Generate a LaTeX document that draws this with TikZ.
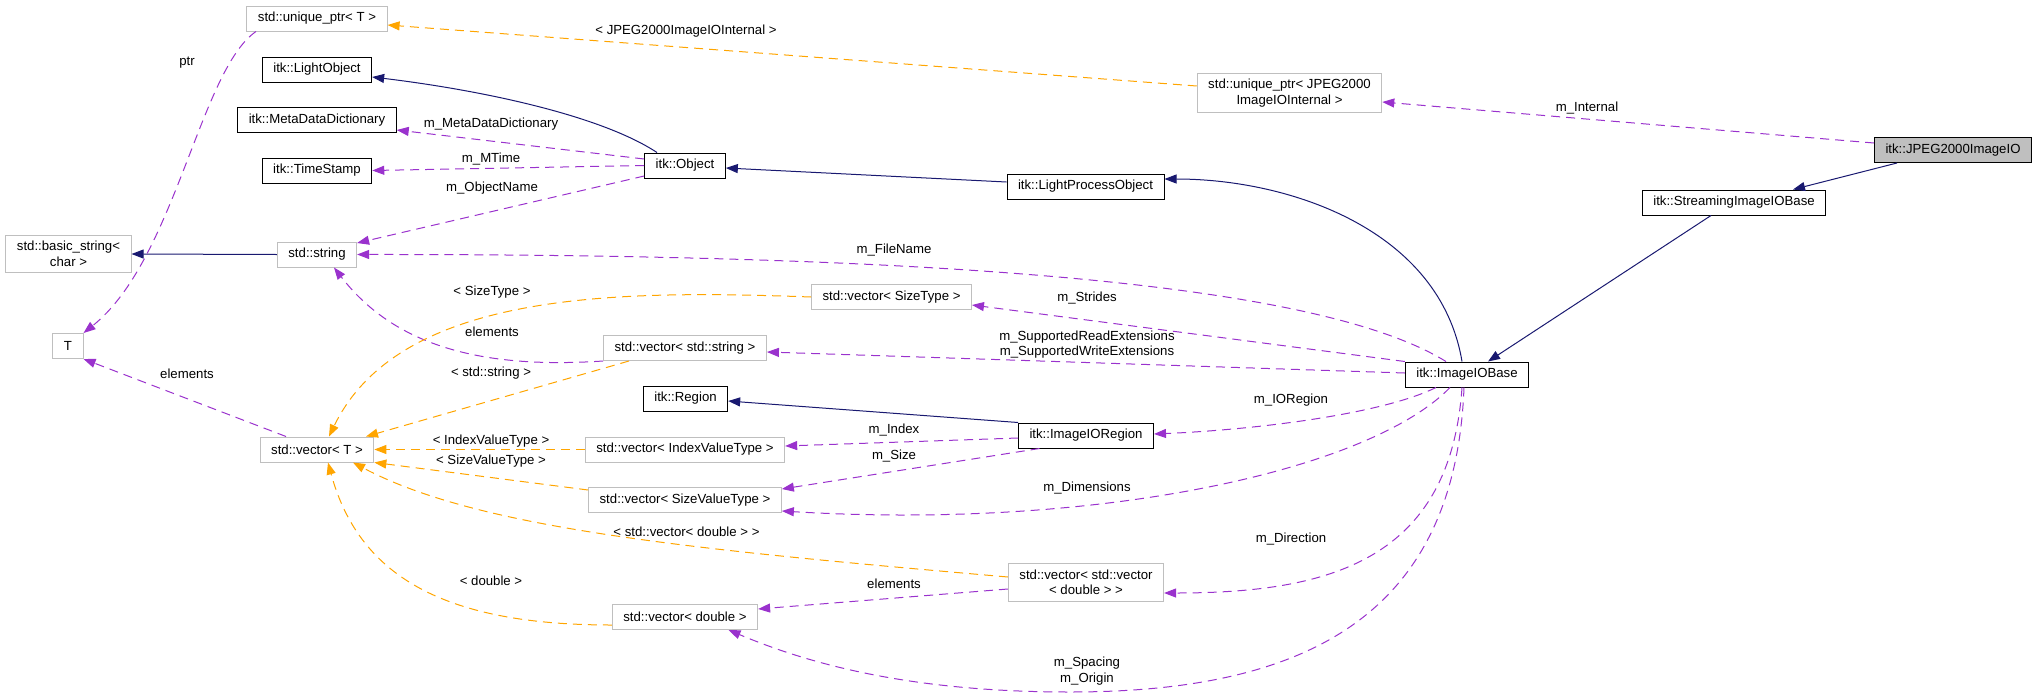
\documentclass[tikz,border=0pt]{standalone}
\usepackage{fontspec}
\setmainfont{Liberation Sans}
\usetikzlibrary{arrows.meta}

\definecolor{navyedge}{HTML}{191970}
\definecolor{orchidedge}{HTML}{9A32CD}
\definecolor{orangeedge}{HTML}{FFA500}
\definecolor{boxgray}{HTML}{BFBFBF}
\newcommand{\dxfont}{\fontsize{13.2pt}{15.5pt}\selectfont}

\begin{document}
\begin{tikzpicture}[
    x=1pt, y=-1pt,
    cls/.style={draw=black, line width=1pt, fill=white, font=\dxfont, align=center,
      inner xsep=11pt, inner ysep=6pt, minimum height=25pt},
    ext/.style={cls, draw=boxgray},
    cur/.style={cls, fill=boxgray},
    lbl/.style={font=\dxfont, inner sep=0pt, align=center},
    tip/.style={-{Triangle[length=12pt, width=9pt]}},
    inherit/.style={tip, navyedge, line width=1pt},
    member/.style={tip, orchidedge, line width=1pt, dash pattern=on 9pt off 6pt},
    tmplarg/.style={tip, orangeedge, line width=1pt, dash pattern=on 9pt off 6pt},
  ]
  \useasboundingbox (0,0) rectangle (2037,699);

  % Classes
  \node[cur] (jpeg) at (1953,150) {itk::JPEG2000ImageIO};
  \node[cls] (streaming) at (1734,202.5) {itk::StreamingImageIOBase};
  \node[cls] (iobase) at (1467,374.5) {itk::ImageIOBase};
  \node[cls] (lpo) at (1085.5,186.5) {itk::LightProcessObject};
  \node[cls] (object) at (685,165.5) {itk::Object};
  \node[cls] (lightobj) at (317,69.5) {itk::LightObject};
  \node[cls] (mdd) at (317,120) {itk::MetaDataDictionary};
  \node[cls] (tstamp) at (317,170.5) {itk::TimeStamp};
  \node[cls] (region) at (685.5,398.5) {itk::Region};
  \node[cls] (ioregion) at (1086,435.5) {itk::ImageIORegion};

  % External types
  \node[ext] (uptrT) at (317,18.5) {std::unique\_ptr< T >};
  \node[ext] (uptrJ) at (1289.5,93) {std::unique\_ptr< JPEG2000\\ImageIOInternal >};
  \node[ext] (str) at (317,254.5) {std::string};
  \node[ext] (bstr) at (68.5,254) {std::basic\_string<\\char >};
  \node[ext] (tnode) at (68,346) {T};
  \node[ext] (vecT) at (317,449.5) {std::vector< T >};
  \node[ext] (vecSizeType) at (891.5,297) {std::vector< SizeType >};
  \node[ext] (vecStr) at (685,348) {std::vector< std::string >};
  \node[ext] (vecIdx) at (685,449.5) {std::vector< IndexValueType >};
  \node[ext] (vecSVT) at (685,500) {std::vector< SizeValueType >};
  \node[ext] (vecVecD) at (1086,582.5) {std::vector< std::vector\\< double > >};
  \node[ext] (vecD) at (685,617) {std::vector< double >};

  % Inheritance
  \draw[inherit] ([xshift=-56pt]jpeg.south) -- ([xshift=59pt]streaming.north);
  \draw[inherit] ([xshift=-23pt]streaming.south) -- ([xshift=21pt]iobase.north);
  \draw[inherit] ([xshift=-5pt]iobase.north) .. controls (1440,230) and (1290,179) .. ([yshift=7.5pt]lpo.east);
  \draw[inherit] ([yshift=4.5pt]lpo.west) -- ([yshift=-2.5pt]object.east);
  \draw[inherit] ([xshift=-28pt]object.north) .. controls (600,115) and (480,90) .. ([yshift=-7.5pt]lightobj.east);
  \draw[inherit] (str.west) -- (bstr.east);
  \draw[inherit] (ioregion.north west) -- ([yshift=-2.5pt]region.east);

  % Members
  \draw[member] ([yshift=7pt]jpeg.west) -- ([yshift=-9pt]uptrJ.east);
  \draw[member] ([yshift=6.5pt]object.west) -- ([yshift=-10pt]mdd.east);
  \draw[member] (object.west) -- (tstamp.east);
  \draw[member] ([yshift=-10.5pt]object.west) -- ([yshift=11.5pt]str.east);
  \draw[member] ([xshift=-61pt]uptrT.south) .. controls (200,70) and (175,260) .. (tnode.north east);
  \draw[member] ([xshift=-31pt]vecT.north) -- (tnode.south east);
  \draw[member] ([xshift=-21pt]iobase.north) .. controls (1330,290) and (1000,254) .. (str.east);
  \draw[member] (iobase.north west) -- ([yshift=-8pt]vecSizeType.east);
  \draw[member] ([yshift=1.5pt]iobase.west) -- ([yshift=-4pt]vecStr.east);
  \draw[member] ([xshift=-31pt]iobase.south) .. controls (1380,415) and (1250,430) .. ([yshift=1.5pt]ioregion.east);
  \draw[member] ([yshift=-2.5pt]ioregion.west) -- ([yshift=3.5pt]vecIdx.east);
  \draw[member] ([xshift=-46.5pt]ioregion.south) -- ([yshift=11pt]vecSVT.east);
  \draw[member] ([xshift=-17pt]iobase.south) .. controls (1370,470) and (1100,530) .. ([yshift=-11pt]vecSVT.east);
  \draw[member] ([xshift=-5pt]iobase.south) .. controls (1450,560) and (1330,593) .. ([yshift=-10.5pt]vecVecD.east);
  \draw[member] ([xshift=-3pt]iobase.south) .. controls (1455,620) and (1300,692) .. (1070,692)
    .. controls (900,692) and (800,660) .. ([xshift=43.5pt]vecD.south);
  \draw[member] ([yshift=-6.5pt]vecVecD.west) -- ([yshift=8pt]vecD.east);
  \draw[member] (vecStr.south west) .. controls (470,370) and (390,340) .. ([xshift=17pt]str.south);

  % Template arguments
  \draw[tmplarg] ([yshift=7pt]uptrJ.west) -- ([yshift=-6.5pt]uptrT.east);
  \draw[tmplarg] (vecSizeType.west) .. controls (620,290) and (400,290) .. ([xshift=12pt]vecT.north);
  \draw[tmplarg] ([xshift=-56pt]vecStr.south) -- ([xshift=49pt]vecT.north);
  \draw[tmplarg] (vecIdx.west) -- (vecT.east);
  \draw[tmplarg] ([yshift=10pt]vecSVT.west) -- (vecT.south east);
  \draw[tmplarg] ([yshift=5.5pt]vecVecD.west) .. controls (700,550) and (480,530) .. ([xshift=36pt]vecT.south);
  \draw[tmplarg] ([yshift=-8pt]vecD.west) .. controls (450,625) and (360,580) .. ([xshift=11pt]vecT.south);

  % Edge labels
  \node[lbl] (lptr) at (187,63) {ptr};
  \node[lbl] (lelemT) at (187,374) {elements};
  \node[lbl] (ljpegint) at (686,31) {< JPEG2000ImageIOInternal >};
  \node[lbl] (lmdd) at (491,124) {m\_MetaDataDictionary};
  \node[lbl] (lmtime) at (491,159) {m\_MTime};
  \node[lbl] (lobjname) at (492,188) {m\_ObjectName};
  \node[lbl] (lsizetype) at (492,292) {< SizeType >};
  \node[lbl] (lelemstr) at (492,332) {elements};
  \node[lbl] (lstdstr) at (491,373) {< std::string >};
  \node[lbl] (lidxvt) at (491,441) {< IndexValueType >};
  \node[lbl] (lsizevt) at (491,461) {< SizeValueType >};
  \node[lbl] (ldouble) at (491,581) {< double >};
  \node[lbl] (lfilename) at (894,250) {m\_FileName};
  \node[lbl] (lstrides) at (1087,298) {m\_Strides};
  \node[lbl] (lsupported) at (1087,344.5) {m\_SupportedReadExtensions\\m\_SupportedWriteExtensions};
  \node[lbl] (lioregion) at (1291,400) {m\_IORegion};
  \node[lbl] (lindex) at (894,430) {m\_Index};
  \node[lbl] (lsize) at (894,456) {m\_Size};
  \node[lbl] (ldims) at (1087,488) {m\_Dimensions};
  \node[lbl] (lvecdouble) at (686.5,532) {< std::vector< double > >};
  \node[lbl] (ldirection) at (1291,539) {m\_Direction};
  \node[lbl] (lelemd) at (894,584) {elements};
  \node[lbl] (lspacing) at (1087,671) {m\_Spacing\\m\_Origin};
  \node[lbl] (linternal) at (1587,108) {m\_Internal};
\end{tikzpicture}
\end{document}
